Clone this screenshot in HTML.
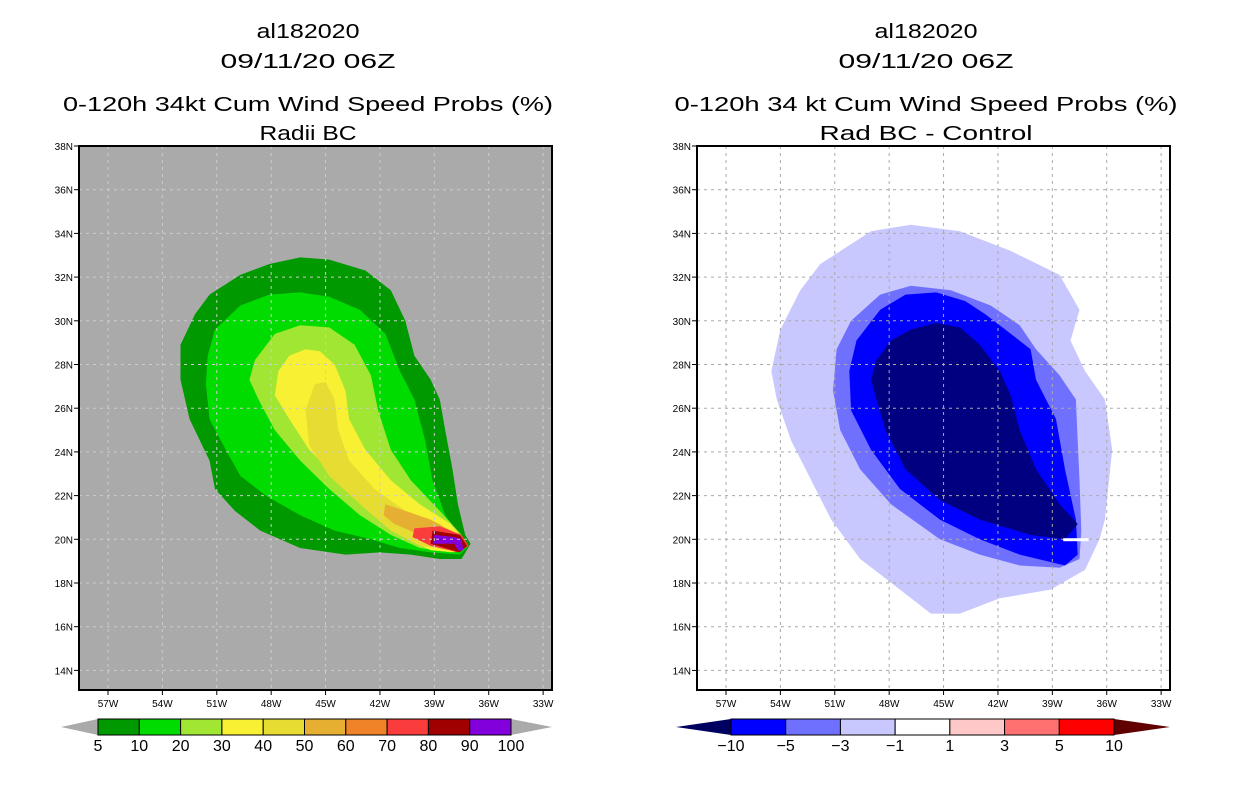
<!DOCTYPE html>
<html><head><meta charset="utf-8"><style>
html,body{margin:0;padding:0;background:#fff;}
svg{display:block;font-family:"Liberation Sans",sans-serif;}
</style></head><body>
<svg id="c" width="1236" height="800" viewBox="0 0 1236 800"></svg>
<script>
const latTicks=[38,36,34,32,30,28,26,24,22,20,18,16,14];
const lonTicks=[57,54,51,48,45,42,39,36,33];
const leftLevels=["5","10","20","30","40","50","60","70","80","90","100"];
const leftColors=["#009900","#00dc00","#a0e632","#f8f032","#e6dc32","#e6af32","#f08228","#fa3c3c","#a00000","#8200dc"];
const rightLevels=["−10","−5","−3","−1","1","3","5","10"];
const rightColors=["#0000ff","#7070ff","#c8c8ff","#ffffff","#ffc8c8","#ff7070","#ff0000"];
const p5=[[49.7,32.1],[48.1,32.6],[46.4,32.9],[44.8,32.8],[42.8,32.3],[41.4,31.4],[40.6,30.0],[40.1,28.4],[39.2,27.3],[38.7,26.4],[38.4,25.0],[38.0,23.2],[37.7,21.6],[37.3,20.2],[37.0,19.8],[37.5,19.1],[38.7,19.1],[40.3,19.3],[42.0,19.4],[43.9,19.3],[46.4,19.6],[48.6,20.4],[50.0,21.3],[51.1,22.3],[51.4,23.6],[52.5,25.5],[53.0,27.3],[53.0,28.9],[52.2,30.3],[51.4,31.2]];
const p10=[[51.1,29.6],[49.7,30.7],[48.1,31.2],[46.4,31.3],[44.8,31.1],[43.1,30.5],[41.7,29.4],[40.9,27.7],[40.1,26.4],[39.5,24.5],[39.1,22.7],[38.4,21.1],[37.5,20.1],[37.1,19.7],[37.6,19.3],[39.2,19.4],[40.9,19.6],[42.5,20.0],[44.5,20.4],[46.4,21.1],[48.3,22.0],[49.7,22.9],[50.5,24.1],[51.4,25.5],[51.6,27.1],[51.5,28.4]];
const p20=[[48.9,28.2],[47.8,29.4],[46.4,29.8],[44.8,29.7],[43.4,28.9],[42.5,27.5],[42.1,25.9],[41.4,24.1],[40.3,22.7],[38.7,21.3],[37.5,20.2],[37.3,19.7],[38.1,19.4],[39.8,19.6],[41.4,20.2],[43.1,21.1],[44.8,22.3],[46.4,23.6],[47.8,25.0],[48.7,26.4],[49.2,27.3]];
const p30=[[47.6,27.7],[47.0,28.4],[46.1,28.7],[45.3,28.6],[44.5,28.0],[43.9,26.8],[43.7,25.5],[42.8,24.1],[41.4,22.7],[39.8,21.6],[38.1,20.7],[37.3,19.9],[37.9,19.4],[39.2,19.5],[40.9,20.2],[42.5,21.3],[44.2,22.7],[45.9,24.1],[47.0,25.5],[47.8,26.6]];
const p40=[[46.1,25.9],[45.6,27.1],[45.0,27.2],[44.5,26.4],[44.3,25.0],[43.7,23.6],[42.3,22.3],[40.6,21.3],[38.7,20.7],[37.5,20.0],[37.9,19.5],[39.8,19.7],[41.4,20.4],[43.1,21.6],[44.8,22.9],[45.9,24.3]];
const p50=[[41.7,21.6],[40.6,21.3],[39.2,20.9],[37.9,20.3],[38.1,19.7],[39.8,20.2],[41.2,20.7],[41.8,21.1]];
const p70=[[40.1,20.5],[38.7,20.6],[37.5,20.2],[37.1,19.7],[37.7,19.4],[39.2,19.7],[40.2,20.1]];
const p80=[[39.1,20.4],[37.6,20.2],[37.2,19.7],[37.6,19.4],[39.2,19.8]];
const p90=[[39.0,20.2],[37.9,20.1],[37.5,20.0],[37.4,19.5],[37.7,19.5],[37.9,19.8],[39.1,19.8]];
const r1=[[51.8,32.6],[49.0,34.1],[46.8,34.4],[44.1,34.1],[41.3,33.2],[38.6,32.1],[37.5,30.5],[38.0,29.1],[37.2,27.7],[36.1,26.4],[35.7,24.1],[36.1,20.9],[36.4,20.0],[37.2,18.6],[39.1,17.7],[41.9,17.3],[44.1,16.6],[45.7,16.6],[47.4,17.7],[49.6,19.1],[51.2,20.9],[52.3,22.7],[53.4,24.5],[54.2,26.4],[54.5,27.7],[54.0,29.6],[52.9,31.4]];
const r3=[[50.1,30.0],[48.5,31.2],[46.8,31.6],[44.6,31.4],[42.4,30.7],[40.8,29.8],[39.9,28.7],[38.6,27.5],[37.7,26.4],[37.6,24.5],[37.5,22.7],[37.4,20.4],[37.5,19.1],[38.6,18.7],[40.8,18.8],[43.0,19.3],[45.2,20.0],[47.9,21.6],[49.6,23.2],[50.7,25.0],[51.1,26.8],[50.9,28.7]];
const r5=[[49.8,29.1],[48.5,30.5],[47.1,31.2],[45.4,31.3],[43.8,30.9],[42.7,30.3],[41.6,29.6],[40.2,28.7],[39.9,27.3],[38.8,25.5],[38.3,23.2],[37.7,20.9],[37.6,19.3],[38.3,18.8],[40.8,19.3],[43.0,20.0],[45.2,20.9],[47.4,22.3],[49.0,24.1],[50.1,25.9],[50.2,27.7]];
const r10=[[48.7,28.2],[47.9,29.1],[46.8,29.6],[45.4,29.9],[44.1,29.7],[43.0,28.9],[41.9,27.7],[41.3,26.6],[40.8,25.0],[39.9,23.2],[38.6,21.6],[37.6,20.7],[38.3,20.0],[40.2,20.2],[43.0,20.9],[45.2,21.8],[47.1,23.2],[48.2,25.0],[48.7,26.4],[49.0,27.3]];
const rWhite=[[38.8,33.1],[37.6,33.2],[37.1,32.0],[38.2,31.5]];

const NS='http://www.w3.org/2000/svg';
const svg=document.getElementById('c');
function el(tag,attrs,parent){const e=document.createElementNS(NS,tag);for(const k in attrs)e.setAttribute(k,attrs[k]);(parent||svg).appendChild(e);return e;}
function mkX(off){return w=>off+108+(57-w)*18.13;}
function yS(lat){return 146+(38-lat)*21.85;}
function poly(pts,X,fill,name,g){const d=pts.map(p=>X(p[0]).toFixed(1)+','+yS(p[1]).toFixed(1)).join(' ');const e=el('polygon',{points:d,fill:fill},g);return e;}
function text(x,y,s,size,anchor,name,tl){const a={x:x,y:y,'font-size':size,'text-anchor':anchor||'middle',fill:'#000'};if(tl){a.textLength=tl;a.lengthAdjust='spacingAndGlyphs';}const t=el('text',a);t.textContent=s;return t;}

function panel(off,bg,gridCol,polys,titles,tls){
  const X=mkX(off);
  const g=el('g',{});
  
  
  const bgr=el('rect',{x:79+off,y:146,width:473,height:544,fill:bg},g);
  
  
  polys.forEach(p=>poly(p[0],X,p[1],p[2],g));
  lonTicks.forEach(w=>{const x=X(w);
    const l=el('line',{x1:x,x2:x,y1:146,y2:690,stroke:gridCol,'stroke-width':1,'stroke-dasharray':'3,4'},g);
    
    el('line',{x1:x,x2:x,y1:690,y2:695,stroke:'#000'},g);
    text(x,707,w+'W',10,'middle','x-tick-label');});
  latTicks.forEach(lt=>{const y=yS(lt);
    const l=el('line',{x1:79+off,x2:552+off,y1:y,y2:y,stroke:gridCol,'stroke-width':1,'stroke-dasharray':'3,4'},g);
    
    el('line',{x1:74+off,x2:79+off,y1:y,y2:y,stroke:'#000'},g);
    text(73+off,y+4,lt+'N',10,'end','y-tick-label');});
  const fr=el('rect',{x:79+off,y:146,width:473,height:544,fill:'none',stroke:'#000','stroke-width':2},g);
  
  const cx=titles[4];
  text(cx,38,titles[0],20,'middle','storm-id-title',tls[0]);
  text(cx,68,titles[1],20,'middle','date-title',tls[1]);
  text(cx,111,titles[2],20,'middle','main-title',tls[2]);
  text(cx,140,titles[3],20,'middle','subtitle',tls[3]);
}
panel(0,'#aaaaaa','#cccccc',[[p5,leftColors[0],'contour-5'],[p10,leftColors[1],'contour-10'],[p20,leftColors[2],'contour-20'],[p30,leftColors[3],'contour-30'],[p40,leftColors[4],'contour-40'],[p50,leftColors[5],'contour-50'],[p70,leftColors[7],'contour-70'],[p80,leftColors[8],'contour-80'],[p90,leftColors[9],'contour-90']],
  ['al182020','09/11/20 06Z','0-120h 34kt Cum Wind Speed Probs (%)','Radii BC',308],[103,175,490,97]);
panel(618,'#ffffff','#aaaaaa',[[r1,'#c8c8ff','diff-minus1'],[rWhite,'#ffffff','diff-hole'],[r3,'#7070ff','diff-minus3'],[r5,'#0000ff','diff-minus5'],[r10,'#000080','diff-minus10']],
  ['al182020','09/11/20 06Z','0-120h 34 kt Cum Wind Speed Probs (%)','Rad BC - Control',926],[103,175,503,213]);
const nx=mkX(618);
const notch=el('rect',{x:nx(38.4),y:yS(20.05),width:nx(37.0)-nx(38.4),height:3,fill:'#fff'});


function colorbar(x0,x1,y,cols,labels,leftTri,rightTri,tl,tr,name){
  const g=el('g',{});
  const h=16,w=(x1-x0)/cols.length;
  const a=el('polygon',{points:`${tl},${y+h/2} ${x0},${y} ${x0},${y+h}`,fill:leftTri},g);
  
  const b=el('polygon',{points:`${tr},${y+h/2} ${x1},${y} ${x1},${y+h}`,fill:rightTri},g);
  
  cols.forEach((c,i)=>{const r=el('rect',{x:x0+i*w,y:y,width:w,height:h,fill:c,stroke:'#000','stroke-width':1},g);
    });
  labels.forEach((s,i)=>text(x0+i*w,y+32,s,16,'middle','colorbar-label'));
}
colorbar(98,511,719,leftColors,leftLevels,'#aaaaaa','#aaaaaa',61,552,'left-colorbar');
colorbar(731,1114,719,rightColors,rightLevels,'#000060','#600000',676,1170,'right-colorbar');
</script>
</body></html>
